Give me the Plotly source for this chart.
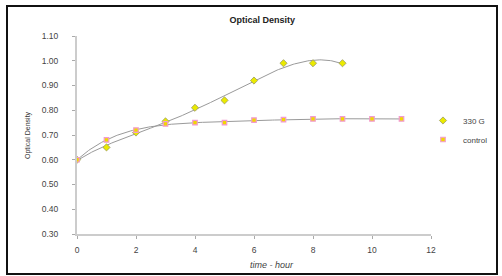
import numpy as np
import plotly.graph_objects as go

hours_330 = [0, 1, 2, 3, 4, 5, 6, 7, 8, 9]
od_330 = [0.60, 0.65, 0.71, 0.755, 0.81, 0.84, 0.92, 0.99, 0.99, 0.99]
hours_ctrl = [0, 1, 2, 3, 4, 5, 6, 7, 8, 9, 10, 11]
od_ctrl = [0.60, 0.68, 0.72, 0.745, 0.75, 0.75, 0.76, 0.762, 0.765, 0.765, 0.765, 0.765]
x_ticks = [0, 2, 4, 6, 8, 10, 12]
y_ticks = [0.30, 0.40, 0.50, 0.60, 0.70, 0.80, 0.90, 1.00, 1.10]

# polynomial trendlines fitted from data
p330 = np.polyfit(hours_330, od_330, 4)
xs330 = np.linspace(min(hours_330), max(hours_330), 200)
pctl = np.polyfit(hours_ctrl, od_ctrl, 5)
xsctl = np.linspace(min(hours_ctrl), max(hours_ctrl), 200)

fig = go.Figure()
fig.add_trace(go.Scatter(x=xs330, y=np.polyval(p330, xs330), mode="lines",
                         line=dict(color="#9a9a9a", width=1), showlegend=False, hoverinfo="skip"))
fig.add_trace(go.Scatter(x=xsctl, y=np.polyval(pctl, xsctl), mode="lines",
                         line=dict(color="#9a9a9a", width=1), showlegend=False, hoverinfo="skip"))
fig.add_trace(go.Scatter(x=hours_330, y=od_330, mode="markers", name="330 G",
                         marker=dict(symbol="diamond", size=5.5, color="#eaea00",
                                     line=dict(color="#9a9a60", width=0.8))))
fig.add_trace(go.Scatter(x=hours_ctrl, y=od_ctrl, mode="markers", name="control",
                         marker=dict(symbol="square", size=4.5, color="#f0d800",
                                     line=dict(color="#f29ad0", width=1.2))))

W, H = 502, 276
l, r, t, b = 77, 71, 36, 42
pw, ph = W - l - r, H - t - b
def px(xp): return (xp - l) / pw
def py(yp): return (H - b - yp) / ph

fig.update_layout(
    width=W, height=H,
    margin=dict(l=l, r=r, t=t, b=b, autoexpand=False),
    paper_bgcolor="white", plot_bgcolor="white",
    font=dict(family="Liberation Sans, Arial, sans-serif", color="#333"),
    title=dict(text="<b>Optical Density</b>", x=px(262), xanchor="center",
               y=1 - 20 / H, yanchor="middle", font=dict(size=9, color="#222")),
    xaxis=dict(range=[0, 12], tickvals=x_ticks, ticks="outside", ticklen=3,
               tickcolor="#aaa", showline=True, linecolor="#cccccc", linewidth=2,
               showgrid=False, zeroline=False, automargin=False, ticklabelstandoff=4,
               tickfont=dict(size=8.5, color="#444")),
    yaxis=dict(range=[0.3, 1.1], tickvals=y_ticks, tickformat=".2f", ticks="outside",
               ticklen=3, tickcolor="#aaa", showline=True, linecolor="#cccccc", linewidth=2,
               showgrid=False, zeroline=False, automargin=False, ticklabelstandoff=12,
               tickfont=dict(size=8.5, color="#444")),
    annotations=[dict(text="<i>time - hour</i>", xref="paper", yref="paper",
                      x=px(272), y=py(265), xanchor="center", yanchor="middle",
                      showarrow=False, font=dict(size=9, color="#444")),
                 dict(text="Optical Density", xref="paper", yref="paper",
                      x=px(28), y=py(135), xanchor="center", yanchor="middle",
                      textangle=-90, showarrow=False, font=dict(size=7, color="#333"))],
    legend=dict(x=px(423), y=py(130), xanchor="left", yanchor="middle",
                font=dict(size=8, color="#444"), bgcolor="rgba(0,0,0,0)",
                itemwidth=30, tracegroupgap=2),
    shapes=[dict(type="rect", xref="paper", yref="paper",
                 x0=px(7), x1=px(497), y0=py(274), y1=py(6),
                 line=dict(color="#111", width=2))],
)
fig.write_html("out.html", config={"displayModeBar": False},
               post_script="document.body.style.margin='0';")
